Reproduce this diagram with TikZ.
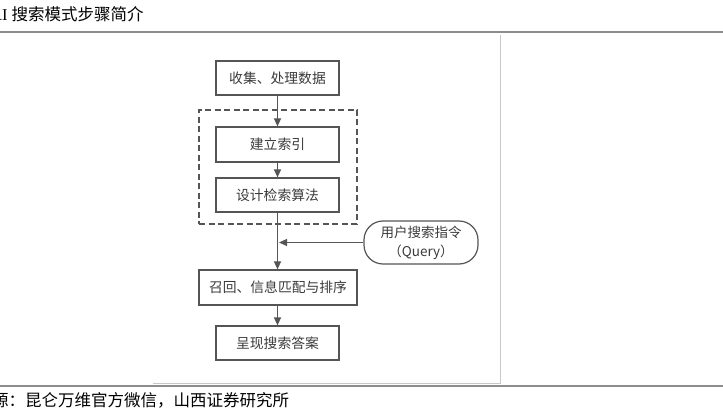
\documentclass[tikz,border=0pt]{standalone}
\usepackage{fontspec}
\setmainfont{Liberation Serif}
\newfontfamily\cjk{Noto Sans CJK SC}
\usetikzlibrary{arrows.meta}
\definecolor{linec}{HTML}{555555}
\definecolor{textc}{HTML}{3A3A3A}
\definecolor{rulec}{HTML}{8C8C8C}
\definecolor{framec}{HTML}{C8C8C8}
\tikzset{
  stepbox/.style={draw=linec, line width=1.2pt, rectangle, minimum height=34pt, inner sep=0pt,
    font=\cjk\fontsize{13.8}{15}\selectfont, text=textc},
  groupbox/.style={draw=linec, line width=1.2pt, dashed, dash pattern=on 6pt off 3.5pt, rectangle, inner sep=0pt},
  querybox/.style={draw=linec, line width=1.2pt, rounded corners=19pt, rectangle, inner sep=0pt,
    minimum width=114pt, minimum height=43pt, align=center,
    font=\cjk\fontsize{13.5}{19}\selectfont, text=textc},
  flow/.style={draw=linec, line width=1.2pt, -{Triangle[length=8pt,width=7pt]}},
}
\begin{document}
\begin{tikzpicture}[x=1pt,y=1pt]
\useasboundingbox (0,0) rectangle (723,-414);
\clip (0,0) rectangle (723,-414);
% title and rules
\node[anchor=west, inner sep=0pt, font=\fontsize{16.5}{18}\selectfont] (title) at (-10,-14) {AI {\cjk 搜索模式步骤简介}};
\draw[rulec, line width=2pt] (0,-32.5) -- (723,-32.5);
\draw[rulec, line width=2pt] (0,-385.5) -- (723,-385.5);
% image frame edges
\draw[framec, line width=1pt] (500,-35) -- (500,-383) -- (153,-383);
% caption
\node[anchor=west, inner sep=0pt, font=\cjk\fontsize{16.5}{18}\selectfont] (src) at (-8,-400) {源：昆仑万维官方微信，山西证券研究所};
% diagram
\node[groupbox, minimum width=158pt, minimum height=114pt] (grp) at (278,-167) {};
\node[stepbox, minimum width=123pt] (b1) at (277.5,-78) {收集、处理数据};
\node[stepbox, minimum width=123pt, minimum height=35pt] (b2) at (277.5,-144.5) {建立索引};
\node[stepbox, minimum width=123pt] (b3) at (277.5,-195) {设计检索算法};
\node[stepbox, minimum width=158pt, minimum height=35pt] (b4) at (278,-287.5) {召回、信息匹配与排序};
\node[stepbox, minimum width=123pt] (b5) at (277.5,-343) {呈现搜索答案};
\node[querybox] (q) at (421,-242.5) {用户搜索指令\\（Query）};
\coordinate (j) at (279,-242.5);
\draw[flow] (b1) -- (b2);
\draw[flow] (b2) -- (b3);
\draw[flow] (b3.south) -- (b3.south |- b4.north);
\draw[flow] (b4.south -| b5.north) -- (b5.north);
\draw[flow] (q.west) -- (j);
\end{tikzpicture}
\end{document}
